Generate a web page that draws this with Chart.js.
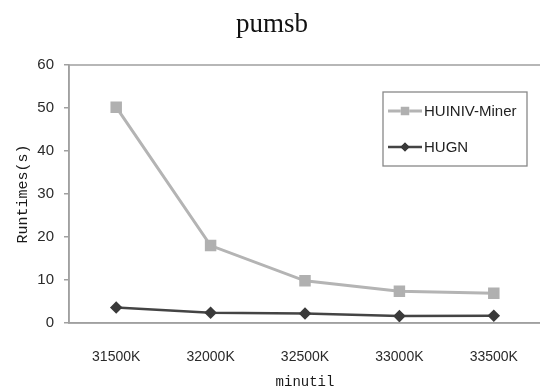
<!DOCTYPE html>
<html>
<head>
<meta charset="utf-8">
<script src="https://cdn.jsdelivr.net/npm/chart.js@4/dist/chart.umd.min.js"></script>
<style>
html,body{margin:0;padding:0;background:#fff;overflow:hidden;width:540px;height:392px;}
#wrap{width:550px;height:392px;position:relative;}
</style>
</head>
<body>
<div id="wrap"><canvas id="c" width="550" height="392"></canvas></div>
<script>
const categories = ["31500K","32000K","32500K","33000K","33500K"];
const huinivMiner = [50.2, 18.0, 9.8, 7.4, 6.9];
const hugn = [3.6, 2.4, 2.2, 1.6, 1.7];
const seriesNames = ["HUINIV-Miner","HUGN"];
const yTicks = [0,10,20,30,40,50,60];

const frame = {
  id:'frame',
  afterDraw(chart){
    const {ctx, chartArea:a} = chart;
    ctx.save();
    ctx.strokeStyle='#a0a0a0'; ctx.lineWidth=1.5;
    ctx.strokeRect(a.left, a.top, a.right-a.left, a.bottom-a.top);
    ctx.restore();
  }
};

const legendBox = {
  id:'legendBox',
  afterDraw(chart){
    const ctx = chart.ctx;
    ctx.save();
    const x0=383, y0=92, w=144, h=74;
    ctx.fillStyle='#fff'; ctx.fillRect(x0,y0,w,h);
    ctx.strokeStyle='#888'; ctx.lineWidth=1.3; ctx.strokeRect(x0,y0,w,h);
    const rows=[111,147];
    chart.data.datasets.forEach((ds,i)=>{
      const y=rows[i];
      ctx.strokeStyle=ds.borderColor; ctx.lineWidth=ds.borderWidth;
      ctx.beginPath(); ctx.moveTo(388,y); ctx.lineTo(422,y); ctx.stroke();
      Chart.helpers.drawPoint(ctx,{pointStyle:ds.pointStyle,radius:ds.pointRadius,borderWidth:0},405,y);
      ctx.fillStyle=ds.pointBackgroundColor; ctx.fill();
      ctx.fillStyle='#222'; ctx.font='15px "Liberation Sans", Arial, sans-serif';
      ctx.textBaseline='middle'; ctx.textAlign='left';
      ctx.fillText(ds.label,424,y+1);
    });
    ctx.restore();
  }
};

new Chart(document.getElementById('c'),{
  type:'line',
  data:{
    labels:categories,
    datasets:[
      {label:seriesNames[0],data:huinivMiner,borderColor:'#b4b4b4',backgroundColor:'#b4b4b4',pointBackgroundColor:'#b0b0b0',pointBorderColor:'#b0b0b0',borderWidth:3,pointStyle:'rect',pointRadius:6,pointHoverRadius:6,tension:0},
      {label:seriesNames[1],data:hugn,borderColor:'#444444',backgroundColor:'#444444',pointBackgroundColor:'#3a3a3a',pointBorderColor:'#3a3a3a',borderWidth:2.5,pointStyle:'rectRot',pointRadius:4.5,pointHoverRadius:4.5,tension:0}
    ]
  },
  options:{
    responsive:false,
    animation:false,
    layout:{padding:{left:0,right:6,top:0,bottom:0}},
    plugins:{
      legend:{display:false},
      tooltip:{enabled:false},
      title:{display:true,text:'pumsb',color:'#111',font:{family:'"Liberation Serif", "DejaVu Serif", serif',size:27,weight:'normal'},padding:{top:9,bottom:23.6}}
    },
    scales:{
      x:{
        offset:true,
        grid:{display:false},
        border:{display:true,color:'#a0a0a0',width:1.5},
        ticks:{color:'#2a2a2a',font:{family:'"Liberation Sans", Arial, sans-serif',size:14},padding:18,maxRotation:0},
        title:{display:true,text:'minutil',color:'#1a1a1a',font:{family:'"Liberation Mono", "DejaVu Sans Mono", monospace',size:14},padding:{top:0,bottom:1}},
        afterFit(s){s.height=69;}
      },
      y:{
        min:0,max:60,
        afterBuildTicks(s){s.ticks=yTicks.map(v=>({value:v}));},
        grid:{display:true,drawOnChartArea:false,drawTicks:true,tickLength:5,color:'#a0a0a0',lineWidth:1.5},
        border:{display:true,color:'#a0a0a0',width:1.5},
        ticks:{color:'#2a2a2a',font:{family:'"Liberation Sans", Arial, sans-serif',size:15},padding:10},
        title:{display:true,text:'Runtimes(s)',color:'#1a1a1a',font:{family:'"Liberation Mono", "DejaVu Sans Mono", monospace',size:15},padding:{top:14,bottom:0}},
        afterFit(s){s.width=69;}
      }
    }
  },
  plugins:[frame,legendBox]
});
</script>
</body>
</html>
